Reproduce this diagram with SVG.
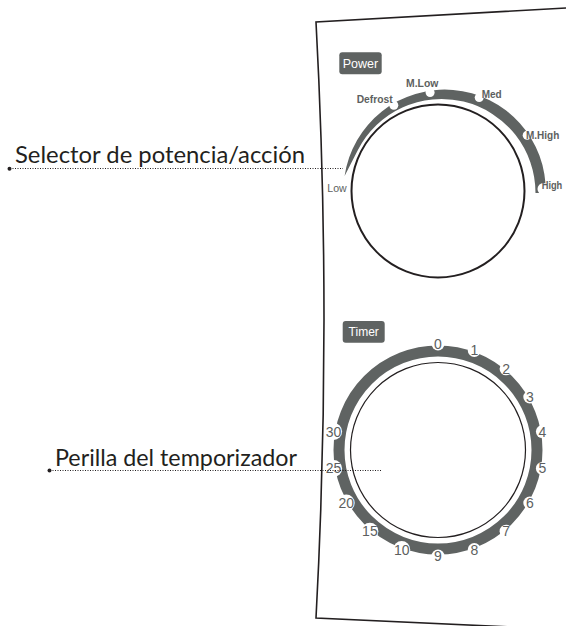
<svg xmlns="http://www.w3.org/2000/svg" width="566" height="626" viewBox="0 0 566 626">
<style>
.band{fill:#5f6362}
.notch{fill:#fff}
.plabel{font-family:"Liberation Sans",Arial,sans-serif;font-size:11px;font-weight:bold;fill:#5d5f60}
.plabel-r{font-family:"Liberation Sans",Arial,sans-serif;font-size:10.5px;fill:#5d5f60}
.tnum{font-family:"Liberation Sans",Arial,sans-serif;font-size:14px;fill:#5d5f60;text-anchor:middle}
.badge{fill:#5f6362}
.badge-t{font-family:"Liberation Sans",Arial,sans-serif;fill:#fff;text-anchor:middle}
.callout{font-family:Lato,"Open Sans",sans-serif;font-size:24px;fill:#231f20}
.leader{stroke:#231f20;stroke-width:1;stroke-dasharray:1 1.5;fill:none}
.dot{fill:#231f20}
</style>
<g id="panel">
<path d="M566,8 L316,22 Q332,320 316,618 L566,629.5" fill="none" stroke="#231f20" stroke-width="1.6"/>
</g>
<g id="power-dial">
<rect class="badge" x="339.3" y="52.3" width="42.4" height="22" rx="3"/>
<text class="badge-t" x="360.5" y="68.3" font-size="12.5">Power</text>
<path class="band" d="M344.6,176 A101.1,101.1 0 0 1 545.7,193 L535.5,193 A94,94 0 0 0 357.9,150 Z"/>
<circle class="notch" cx="393.8" cy="105.3" r="4.5"/>
<circle class="notch" cx="430.1" cy="92.5" r="4.5"/>
<circle class="notch" cx="479.2" cy="97.6" r="4.5"/>
<circle class="notch" cx="527.2" cy="135.2" r="4.5"/>
<circle class="notch" cx="543.5" cy="189" r="6"/>
<circle cx="438" cy="191" r="86.5" fill="#fff" stroke="#231f20" stroke-width="2"/>
<text class="plabel-r" x="327.3" y="191.5" textLength="19.4" lengthAdjust="spacingAndGlyphs">Low</text>
<text class="plabel" x="356.7" y="102.6" textLength="36" lengthAdjust="spacingAndGlyphs">Defrost</text>
<text class="plabel" x="406" y="86.7" textLength="32.3" lengthAdjust="spacingAndGlyphs">M.Low</text>
<text class="plabel" x="481.7" y="98" textLength="20" lengthAdjust="spacingAndGlyphs">Med</text>
<text class="plabel" x="526" y="139.3" textLength="33.3" lengthAdjust="spacingAndGlyphs">M.High</text>
<text class="plabel" x="541.7" y="189" textLength="20.6" lengthAdjust="spacingAndGlyphs">High</text>
</g>
<g id="timer-dial">
<rect class="badge" x="342.7" y="321" width="42" height="21.7" rx="3"/>
<text class="badge-t" x="363.7" y="336" font-size="12">Timer</text>
<circle cx="438" cy="450" r="99" fill="none" stroke="#5f6362" stroke-width="11"/>
<g class="notch">
<circle cx="438" cy="344" r="6.5"/>
<circle cx="474.3" cy="350.4" r="6.5"/>
<circle cx="506.1" cy="368.8" r="6.5"/>
<circle cx="529.8" cy="397" r="6.5"/>
<circle cx="542.4" cy="431.6" r="6.5"/>
<circle cx="542.4" cy="468.4" r="6.5"/>
<circle cx="529.8" cy="503" r="6.5"/>
<circle cx="506.1" cy="531.2" r="6.5"/>
<circle cx="474.3" cy="549.6" r="6.5"/>
<circle cx="438" cy="556" r="6.5"/>
<circle cx="401.7" cy="549.6" r="8.5"/>
<circle cx="369.9" cy="531.2" r="8.5"/>
<circle cx="346.2" cy="503" r="8.5"/>
<circle cx="333.6" cy="468.4" r="8.5"/>
<circle cx="333.6" cy="431.6" r="8.5"/>
</g>
<circle cx="438" cy="450" r="87.5" fill="#fff" stroke="#231f20" stroke-width="1.2"/>
<text class="tnum" x="438" y="349">0</text>
<text class="tnum" x="474.3" y="355.4">1</text>
<text class="tnum" x="506.1" y="373.8">2</text>
<text class="tnum" x="529.8" y="402">3</text>
<text class="tnum" x="542.4" y="436.6">4</text>
<text class="tnum" x="542.4" y="473.4">5</text>
<text class="tnum" x="529.8" y="508">6</text>
<text class="tnum" x="506.1" y="536.2">7</text>
<text class="tnum" x="474.3" y="554.6">8</text>
<text class="tnum" x="438" y="561">9</text>
<text class="tnum" x="401.7" y="554.6">10</text>
<text class="tnum" x="369.9" y="536.2">15</text>
<text class="tnum" x="346.2" y="508">20</text>
<text class="tnum" x="333.6" y="473.4">25</text>
<text class="tnum" x="333.6" y="436.6">30</text>
</g>
<g id="label-power">
<text class="callout" x="15" y="163.3" textLength="290" lengthAdjust="spacingAndGlyphs">Selector de potencia/acción</text>
</g>
<g id="label-timer">
<text class="callout" x="55" y="465.7" textLength="242" lengthAdjust="spacingAndGlyphs">Perilla del temporizador</text>
</g>
<g id="connectors">
<circle class="dot" cx="9.5" cy="168.7" r="2"/>
<line class="leader" x1="10" y1="168.5" x2="343" y2="168.5"/>
<circle class="dot" cx="49.5" cy="470.5" r="2"/>
<line class="leader" x1="50" y1="470.5" x2="382" y2="470.5"/>
</g>
</svg>
